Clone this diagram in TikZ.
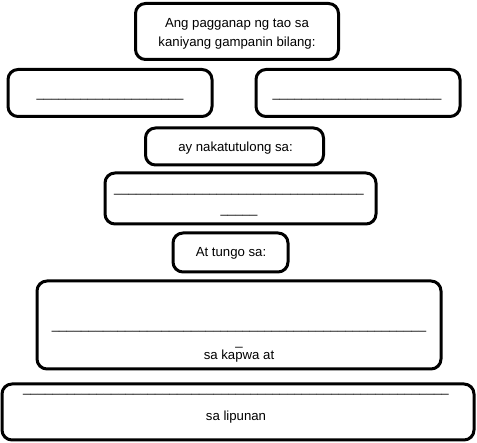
\documentclass[tikz,border=0pt]{standalone}
\usepackage{fontspec}
\setmainfont{Liberation Sans}
\usetikzlibrary{positioning}
\newcommand{\blanks}[1]{\foreach \k in {1,...,#1}{\_}}

\begin{document}
\begin{tikzpicture}[x=1pt, y=-1pt,
                box/.style={draw, line width=3pt, rounded corners=10pt, inner sep=0, fill=white},
                txt/.style={align=center, anchor=base, inner sep=0, font=\fontsize{13.2}{19}\selectfont, text=black}]
                \useasboundingbox[fill=white] (0, 0) rectangle (477, 443);

                \node[box, minimum width=203pt, minimum height=56pt] (B1) at (237, 31.5) {};
                \node[box, minimum width=204pt, minimum height=47pt] (B2) at (110, 93) {};
                \node[box, minimum width=204pt, minimum height=47pt] (B3) at (358, 93) {};
                \node[box, minimum width=178pt, minimum height=37pt] (B4) at (234.5, 146.5) {};
                \node[box, minimum width=271pt, minimum height=51pt] (B5) at (240.5, 198.5) {};
                \node[box, minimum width=115pt, minimum height=39pt] (B6) at (230.5, 252.5) {};
                \node[box, minimum width=404pt, minimum height=88pt] (B7) at (239, 325) {};
                \node[box, minimum width=472pt, minimum height=56pt] (B8) at (238, 412) {};

                \node[txt] (T1) at (237, 47) {Ang pagganap ng tao sa\\kaniyang gampanin bilang:};
                \node[txt] (T2) at (110, 97.5) {\blanks{20}};
                \node[txt] (T3) at (357, 97.5) {\blanks{23}};
                \node[txt] (T4) at (235.5, 152) {ay nakatutulong sa:};
                \node[txt] (T5) at (239, 213.5) {\blanks{34}\\[2pt]\blanks{5}};
                \node[txt] (T6) at (231, 256.7) {At tungo sa:};
                \node[txt] (T7) at (239, 359.3) {\blanks{51}\\[-3pt]\_\\[-5.2pt]sa kapwa at};
                \node[txt] (T8) at (236, 420.5) {\blanks{58}\\[9pt]sa lipunan};
            \end{tikzpicture}
\end{document}
